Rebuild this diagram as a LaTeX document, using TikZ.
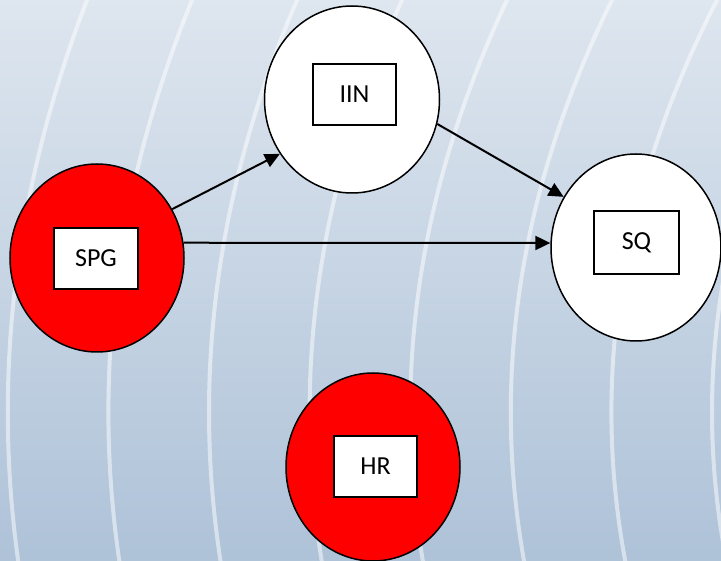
\documentclass[tikz,border=0pt]{standalone}
\usepackage{fontspec}
\setmainfont{Carlito}
\usetikzlibrary{shapes.geometric,arrows.meta}
\definecolor{bgtop}{RGB}{222,230,239}
\definecolor{bgbot}{RGB}{174,194,216}
\tikzset{
  bgarc/.style={draw=white, draw opacity=0.5, line width=4pt},
  redell/.style={ellipse, draw=black, fill=red, line width=1.5pt, inner sep=0pt},
  whiteell/.style={ellipse, draw=black, fill=white, line width=1.5pt, inner sep=0pt},
  lbl/.style={rectangle, draw=black, fill=white, line width=1.6pt, inner sep=0pt, font=\fontsize{26}{29}\selectfont},
  conn/.style={draw=black, line width=2pt, -{Triangle[length=15pt,width=14pt]}}
}
\begin{document}
\begin{tikzpicture}[x=1pt,y=-1pt]
\useasboundingbox (0,0) rectangle (721,561);
\shade[top color=bgtop, bottom color=bgbot] (0,0) rectangle (721,561);
\begin{scope}
\clip (0,0) rectangle (721,561);
\foreach \k in {0,...,7} {
  \pgfmathsetmacro\m{7.8+100.6*\k}
  \pgfmathsetmacro\c{(79.2+4.4*\k)/16.9744}
  \draw[bgarc] plot[domain=-5:566, samples=50, variable=\t] ({\m+\c*((\t-412)/100)^2}, \t);
}
\end{scope}
% ellipses
\node[redell, minimum width=174pt, minimum height=188pt] (spg) at (97,258) {};
\node[whiteell, minimum width=175pt, minimum height=187pt] (iin) at (352,99.5) {};
\node[whiteell, minimum width=170pt, minimum height=187pt] (sq) at (636,247.5) {};
\node[redell, minimum width=174pt, minimum height=188pt] (hr) at (373,467) {};
% label boxes
\node[lbl, minimum width=84pt, minimum height=61pt] (spgl) at (96,258.5) {SPG};
\node[lbl, minimum width=83pt, minimum height=61pt] (iinl) at (354.5,94.5) {IIN};
\node[lbl, minimum width=85pt, minimum height=63pt] (sql) at (636.5,242.5) {SQ};
\node[lbl, minimum width=83pt, minimum height=61pt] (hrl) at (375.5,466.5) {HR};
% connectors
\draw[conn] (spg.33) -- (iin.217);
\draw[conn] (spg.10) -- (sq.177);
\draw[conn] (iin.344) -- (sq.145);
\end{tikzpicture}
\end{document}
